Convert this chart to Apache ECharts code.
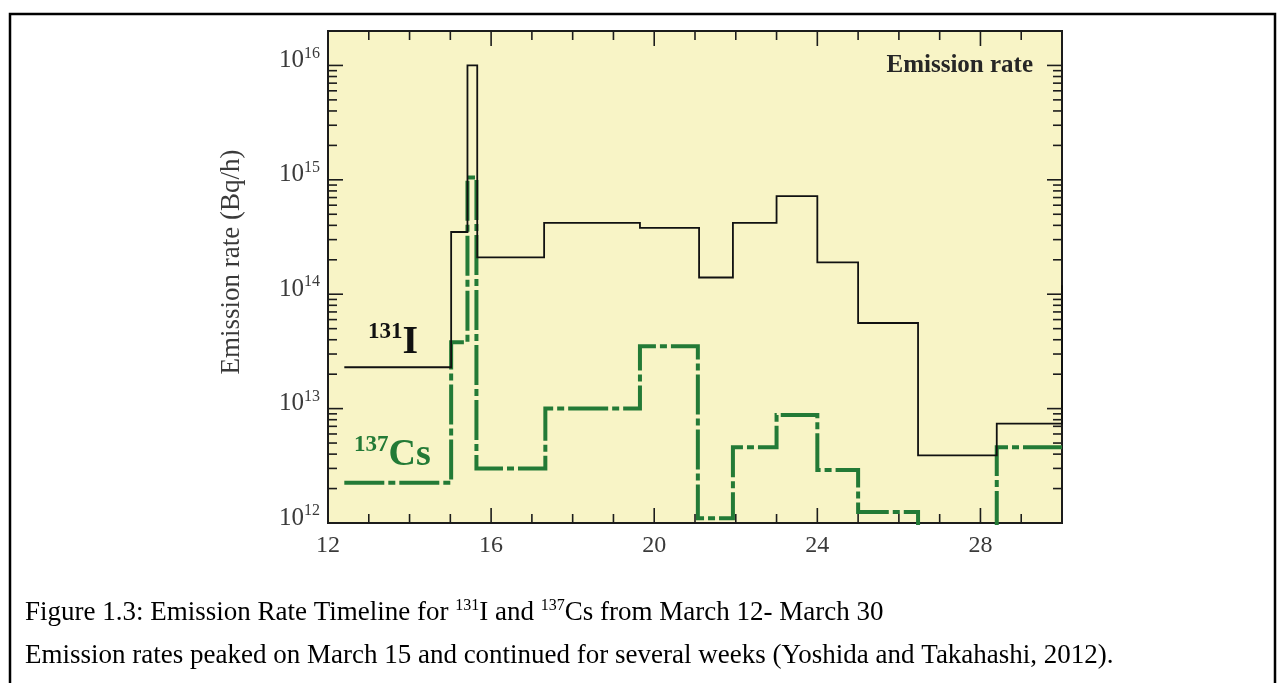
<!DOCTYPE html>
<html>
<head>
<meta charset="utf-8">
<title>Emission Rate Timeline</title>
<script src="https://cdn.jsdelivr.net/npm/echarts@6/dist/echarts.min.js"></script>
<style>
  html, body { margin: 0; padding: 0; background: #ffffff; }
  #chart { width: 1278px; height: 683px; }
</style>
</head>
<body>
<div id="chart"></div>
<script>
// Hourly release rates (Bq/h) as step functions of the day of March.
// Each entry starts a new interval; the last start closes the series.
const iodineStart = [12.4, 15.02, 15.42, 15.66, 17.3, 19.65, 21.1, 21.93, 23.0, 24.0, 25.0, 26.47, 28.4, 30.0];
const iodineRate  = [2.3e13, 3.5e14, 1.0e16, 2.1e14, 4.2e14, 3.8e14, 1.4e14, 4.2e14, 7.2e14, 1.9e14, 5.6e13, 3.9e12, 7.4e12, 1.2e14];

const cesiumStart = [12.4, 15.02, 15.42, 15.64, 17.33, 19.65, 21.07, 21.93, 23.0, 24.0, 25.0, 26.47, 28.4, 30.0];
const cesiumRate  = [2.25e12, 3.8e13, 1.05e15, 3.0e12, 1.0e13, 3.5e13, 1.1e12, 4.6e12, 8.8e12, 2.9e12, 1.25e12, 5.0e11, 4.6e12, 4.6e12];

// Axis ranges and tick marks
const dayRange = [12, 30];
const rateRange = [1e12, 2e16];
const dayTicks = [13, 14, 15, 16, 17, 18, 19, 20, 21, 22, 23, 24, 25, 26, 27, 28, 29];
const dayLabelStep = 4;
const rateDecades = [12, 13, 14, 15, 16];
const rateMantissas = [2, 3, 4, 5, 6, 7, 8, 9];

// Texts
const yTitle = 'Emission rate (Bq/h)';
const panelTitle = 'Emission rate';
const captionLine1 = 'Figure 1.3: Emission Rate Timeline for {sup|131}I and {sup|137}Cs from March 12- March 30';
const captionLine2 = 'Emission rates peaked on March 15 and continued for several weeks (Yoshida and Takahashi, 2012).';

const SERIF = '"Liberation Serif", "Times New Roman", serif';
const GREEN = '#237a36';
const INK = '#1c1c1c';
const LABEL_GREY = '#3a3a3a';

// Expand interval starts/values into the corner points of a step line
function stepPoints(starts, values) {
  const pts = [];
  for (let i = 0; i < starts.length - 1; i++) {
    pts.push([starts[i], values[i]]);
    pts.push([starts[i + 1], values[i]]);
  }
  const last = starts.length - 1;
  pts.push([starts[last], values[last]]);
  return pts;
}

// Tick rows: [day, rate, kind (0 = day tick, 1 = rate tick), major flag]
const tickRows = [];
dayTicks.forEach(d => tickRows.push([d, rateRange[0], 0, d % dayLabelStep === 0 ? 1 : 0]));
rateDecades.forEach(e => {
  if (e > rateDecades[0]) tickRows.push([dayRange[0], Math.pow(10, e), 1, 1]);
  rateMantissas.forEach(m => {
    const v = m * Math.pow(10, e);
    if (v < rateRange[1]) tickRows.push([dayRange[0], v, 1, 0]);
  });
});

const chart = echarts.init(document.getElementById('chart'), null, { renderer: 'canvas' });

const option = {
  animation: false,
  backgroundColor: '#ffffff',
  grid: {
    left: 328, right: 216, top: 31, bottom: 160,
    show: true,
    backgroundColor: '#f8f4c6',
    borderColor: INK,
    borderWidth: 2
  },
  xAxis: {
    type: 'value',
    min: dayRange[0], max: dayRange[1], interval: 1,
    axisLine: { show: false },
    axisTick: { show: false },
    splitLine: { show: false },
    axisLabel: {
      margin: 11,
      color: LABEL_GREY,
      fontFamily: SERIF,
      fontSize: 24,
      formatter: v => (v % dayLabelStep === 0 ? String(v) : '')
    }
  },
  yAxis: {
    type: 'log',
    logBase: 10,
    min: rateRange[0], max: rateRange[1],
    axisLine: { show: false },
    axisTick: { show: false },
    splitLine: { show: false },
    axisLabel: {
      margin: 8,
      padding: [0, 0, 10, 0],
      color: LABEL_GREY,
      fontFamily: SERIF,
      formatter: v => {
        const e = Math.log10(v);
        const r = Math.round(e);
        return Math.abs(e - r) < 1e-6 ? '{b|10}{e|' + r + '}' : '';
      },
      rich: {
        b: { fontFamily: SERIF, fontSize: 25, lineHeight: 30, color: LABEL_GREY },
        e: { fontFamily: SERIF, fontSize: 16, lineHeight: 10, verticalAlign: 'top', color: LABEL_GREY }
      }
    }
  },
  series: [
    {
      name: '137Cs',
      type: 'line',
      data: stepPoints(cesiumStart, cesiumRate),
      showSymbol: false,
      clip: true,
      lineStyle: { color: GREEN, width: 4, type: [40, 4, 7, 4], cap: 'butt', join: 'miter' },
      z: 3
    },
    {
      name: '131I',
      type: 'line',
      data: stepPoints(iodineStart, iodineRate),
      showSymbol: false,
      clip: true,
      lineStyle: { color: '#111111', width: 1.8, join: 'miter' },
      z: 4
    },
    {
      // inward tick marks on all four sides of the frame
      type: 'custom',
      data: tickRows,
      encode: { x: 0, y: 1 },
      silent: true,
      z: 5,
      renderItem: (params, api) => {
        const kind = api.value(2);
        const len = api.value(3) ? 15 : 9;
        const style = { stroke: INK, lineWidth: 1.6 };
        if (kind === 0) {
          const d = api.value(0);
          const b = api.coord([d, rateRange[0]]);
          const t = api.coord([d, rateRange[1]]);
          return { type: 'group', children: [
            { type: 'line', shape: { x1: b[0], y1: b[1], x2: b[0], y2: b[1] - len }, style },
            { type: 'line', shape: { x1: t[0], y1: t[1], x2: t[0], y2: t[1] + len }, style }
          ] };
        }
        const v = api.value(1);
        const l = api.coord([dayRange[0], v]);
        const r = api.coord([dayRange[1], v]);
        return { type: 'group', children: [
          { type: 'line', shape: { x1: l[0], y1: l[1], x2: l[0] + len, y2: l[1] }, style },
          { type: 'line', shape: { x1: r[0], y1: r[1], x2: r[0] - len, y2: r[1] }, style }
        ] };
      }
    }
  ],
  graphic: [
    // page frame
    { type: 'polyline', silent: true, shape: { points: [[10, 700], [10, 14], [1275, 14], [1275, 700]] },
      style: { stroke: '#000000', lineWidth: 2.5, fill: null } },
    // vertical axis title
    { type: 'text', silent: true, x: 232, y: 262, rotation: Math.PI / 2,
      style: { text: yTitle, font: '27px ' + SERIF, fill: LABEL_GREY, align: 'center', verticalAlign: 'middle' } },
    // panel title
    { type: 'text', silent: true, x: 1033, y: 66,
      style: { text: panelTitle, font: 'bold 25px ' + SERIF, fill: '#262626', align: 'right', verticalAlign: 'middle' } },
    // series labels
    { type: 'text', silent: true, x: 368, y: 343,
      style: { text: '{s|131}{m|I}', align: 'left', verticalAlign: 'middle',
        rich: {
          s: { font: 'bold 23px ' + SERIF, fill: '#111111', lineHeight: 14, verticalAlign: 'top' },
          m: { font: 'bold 40px ' + SERIF, fill: '#111111', lineHeight: 44 }
        } } },
    { type: 'text', silent: true, x: 354, y: 455,
      style: { text: '{s|137}{m|Cs}', align: 'left', verticalAlign: 'middle',
        rich: {
          s: { font: 'bold 23px ' + SERIF, fill: GREEN, lineHeight: 14, verticalAlign: 'top' },
          m: { font: 'bold 38px ' + SERIF, fill: GREEN, lineHeight: 42 }
        } } },
    // caption
    { type: 'text', silent: true, x: 25, y: 613,
      style: { text: captionLine1, font: '27px ' + SERIF, fill: '#000000', align: 'left', verticalAlign: 'middle',
        lineHeight: 30,
        rich: { sup: { font: '16px ' + SERIF, fill: '#000000', lineHeight: 12, verticalAlign: 'top' } } } },
    { type: 'text', silent: true, x: 25, y: 656,
      style: { text: captionLine2, font: '27px ' + SERIF, fill: '#000000', align: 'left', verticalAlign: 'middle' } }
  ]
};

chart.setOption(option);
</script>
</body>
</html>
